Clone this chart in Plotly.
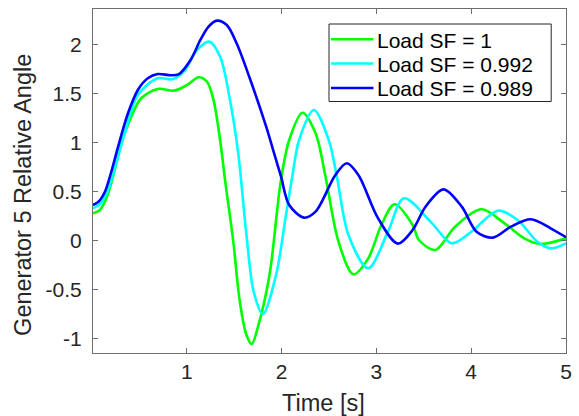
import plotly.graph_objects as go

# Generator 5 relative angle after the disturbance, for three load scaling factors
t_sf1 = [0.01, 0.08, 0.15, 0.22, 0.309, 0.414, 0.518, 0.692, 0.865, 1.004, 1.125,
         1.212, 1.281, 1.351, 1.403, 1.49, 1.559, 1.629, 1.685, 1.75, 1.872, 1.99,
         2.08, 2.219, 2.358, 2.463, 2.60, 2.757, 2.914, 3.052, 3.19, 3.382, 3.448,
         3.622, 3.83, 4.108, 4.351, 4.56, 4.73, 5.0]
y_sf1 = [0.28, 0.31, 0.43, 0.65, 0.994, 1.265, 1.453, 1.548, 1.531, 1.589, 1.667,
         1.622, 1.436, 1.027, 0.62, -0.01, -0.622, -0.962, -1.055, -0.88, -0.35, 0.6,
         1.027, 1.306, 1.096, 0.653, -0.01, -0.343, -0.18, 0.16, 0.371, 0.16, 0.007,
         -0.095, 0.143, 0.32, 0.177, 0.024, -0.034, 0.024]

t_sf0992 = [0.01, 0.08, 0.153, 0.22, 0.344, 0.483, 0.692, 0.848, 0.969, 1.108, 1.236,
            1.351, 1.455, 1.542, 1.629, 1.705, 1.802, 1.941, 2.046, 2.115, 2.184, 2.34,
            2.497, 2.583, 2.705, 2.914, 3.122, 3.29, 3.587, 3.796, 4.004, 4.281, 4.49,
            4.698, 4.838, 5.0]
y_sf0992 = [0.33, 0.37, 0.48, 0.67, 1.096, 1.487, 1.657, 1.647, 1.724, 1.946, 2.031,
            1.878, 1.436, 0.892, 0.058, -0.52, -0.751, -0.35, 0.262, 0.67, 1.027, 1.334,
            1.027, 0.653, 0.058, -0.282, 0.092, 0.432, 0.177, -0.027, 0.092, 0.306, 0.211,
            -0.01, -0.078, -0.027]

t_sf0989 = [0.01, 0.07, 0.136, 0.205, 0.275, 0.379, 0.483, 0.588, 0.692, 0.83, 0.917,
            1.039, 1.143, 1.229, 1.317, 1.421, 1.525, 1.664, 1.837, 1.92, 1.994, 2.08,
            2.236, 2.358, 2.567, 2.688, 2.81, 3.018, 3.226, 3.382, 3.518, 3.708, 3.90,
            4.056, 4.229, 4.42, 4.629, 4.838, 5.0]
y_sf0989 = [0.364, 0.40, 0.5, 0.71, 0.96, 1.30, 1.538, 1.657, 1.70, 1.688, 1.70,
            1.844, 2.048, 2.184, 2.245, 2.20, 2.014, 1.657, 1.163, 0.893, 0.653, 0.364,
            0.235, 0.296, 0.67, 0.79, 0.67, 0.228, -0.03, 0.109, 0.347, 0.524, 0.347,
            0.092, 0.031, 0.143, 0.218, 0.126, 0.035]

series_names = ["Load SF = 1", "Load SF = 0.992", "Load SF = 0.989"]
series_colors = ["#00ff00", "#00ffff", "#0000ff"]

y_tick_vals = [-1, -0.5, 0, 0.5, 1, 1.5, 2]
y_tick_text = ["-1", "-0.5", "0", "0.5", "1", "1.5", "2"]
x_tick_vals = [1, 2, 3, 4, 5]
x_tick_text = ["1", "2", "3", "4", "5"]

FONT = "Liberation Sans, Arial, Helvetica, sans-serif"
TXT = "#262626"
AX = "#6e6e6e"

# figure / plot-area geometry in pixels
W, H = 579, 416
ML, MR, MT, MB = 93, 7, 9, 63
PW, PH = W - ML - MR, H - MT - MB


def px_x(p):
    return (p - ML) / PW


def px_y(p):
    return (H - MB - p) / PH


fig = go.Figure()
for t, y, name, color in zip([t_sf1, t_sf0992, t_sf0989],
                             [y_sf1, y_sf0992, y_sf0989],
                             series_names, series_colors):
    fig.add_trace(go.Scatter(
        x=t, y=y, mode="lines", name=name, showlegend=False,
        line=dict(color=color, width=2.6, shape="spline", smoothing=0.9),
    ))

axis_common = dict(
    showgrid=False, zeroline=False, showline=True, linecolor=AX, linewidth=1,
    mirror="ticks", ticks="inside", ticklen=5, tickcolor=AX, tickwidth=1,
    tickfont=dict(family=FONT, size=21, color=TXT),
)

# boxed legend in the upper right of the axes
shapes = [dict(type="rect", xref="paper", yref="paper",
               x0=px_x(332), x1=px_x(557), y0=px_y(101.5), y1=px_y(24),
               line=dict(color="#262626", width=1), fillcolor="white", layer="above")]
annotations = []
row_y = [39.3, 63.5, 88.0]
for name, color, ry in zip(series_names, series_colors, row_y):
    shapes.append(dict(type="line", xref="paper", yref="paper",
                       x0=px_x(334), x1=px_x(377), y0=px_y(ry), y1=px_y(ry),
                       line=dict(color=color, width=2.6), layer="above"))
    annotations.append(dict(text=name, xref="paper", yref="paper",
                            x=px_x(379), y=px_y(ry + 1), xanchor="left", yanchor="middle",
                            showarrow=False, font=dict(family=FONT, size=21, color="black")))

# axis labels
annotations.append(dict(text="Time [s]", xref="paper", yref="paper",
                        x=px_x(326), y=px_y(403), xanchor="center", yanchor="middle",
                        showarrow=False, font=dict(family=FONT, size=23.5, color=TXT)))
annotations.append(dict(text="Generator 5 Relative Angle", xref="paper", yref="paper",
                        x=px_x(22), y=px_y(195), xanchor="center", yanchor="middle",
                        textangle=-90, showarrow=False,
                        font=dict(family=FONT, size=23.5, color=TXT)))

fig.update_layout(
    width=W, height=H,
    margin=dict(l=ML, r=MR, t=MT, b=MB),
    paper_bgcolor="white", plot_bgcolor="white",
    font=dict(family=FONT, color=TXT),
    xaxis=dict(range=[0.01, 5.0], tickmode="array", tickvals=x_tick_vals,
               ticktext=x_tick_text, **axis_common),
    yaxis=dict(range=[-1.146, 2.364], tickmode="array", tickvals=y_tick_vals,
               ticktext=y_tick_text, ticklabelstandoff=6, **axis_common),
    shapes=shapes,
    annotations=annotations,
    showlegend=False,
)

fig.write_html("out.html")
